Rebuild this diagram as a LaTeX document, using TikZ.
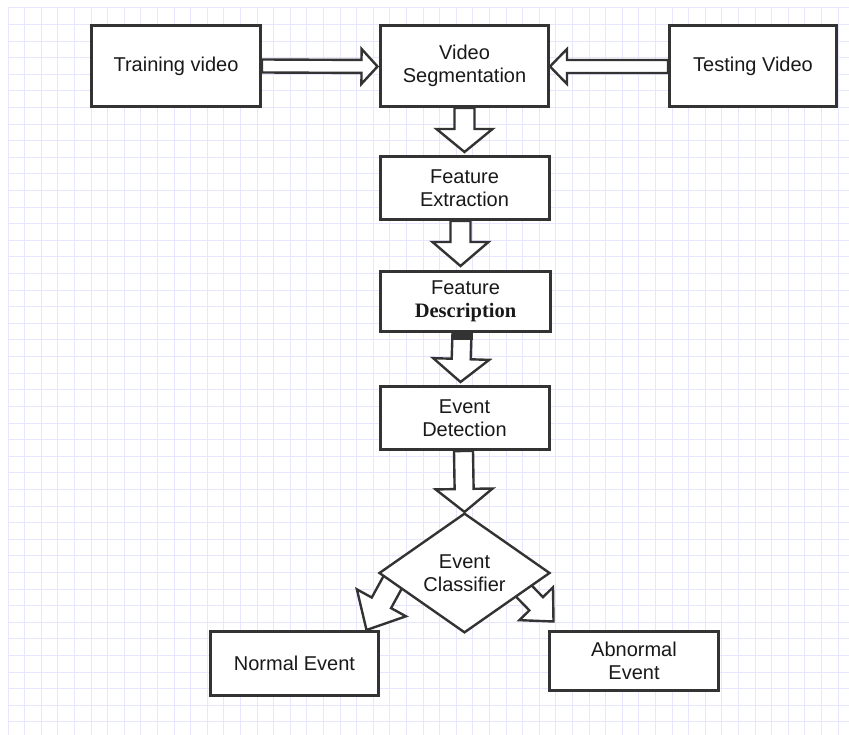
\documentclass[tikz,border=0pt]{standalone}
\usepackage{fontspec}
\setmainfont{Liberation Sans}
\newfontfamily\serifbold{Liberation Serif}
\usetikzlibrary{shapes.geometric,calc}
\pgfdeclarelayer{gridl}
\pgfdeclarelayer{arrl}
\pgfsetlayers{gridl,arrl,main}
\definecolor{gridc}{RGB}{230,230,254}
\definecolor{edgec}{RGB}{51,51,51}
\definecolor{txtc}{RGB}{25,25,25}
% block arrow: #1 start, #2 tip, #3 shaft half width, #4 head half width, #5 head length
\newcommand\blockarrow[5]{%
  \coordinate (ba-b) at ($(#2)!#5!(#1)$);
  \draw[barrow] (#2) -- ($(ba-b)!#4!90:(#2)$) -- ($(ba-b)!#3!90:(#2)$)
    -- ($(#1)!#3!90:(#2)$) -- ($(#1)!#3!-90:(#2)$) -- ($(ba-b)!#3!-90:(#2)$)
    -- ($(ba-b)!#4!-90:(#2)$) -- cycle;
}
\begin{document}
\begin{tikzpicture}[x=1pt,y=-1pt,
  box/.style={draw=edgec, line width=3pt, fill=white, minimum width=169pt,
    inner sep=0pt, align=center, text=txtc, font=\fontsize{20}{23.5}\selectfont},
  decision/.style={diamond, draw=edgec, line width=2.4pt, fill=white,
    minimum width=171pt, minimum height=116pt, inner sep=0pt, align=center,
    text=txtc, font=\fontsize{20}{23.5}\selectfont},
  barrow/.style={draw=edgec, line width=2.4pt, fill=white, line join=miter},
  gridline/.style={draw=gridc, line width=1pt}]
\useasboundingbox (0,0) rectangle (849,735);
\begin{pgfonlayer}{gridl}
  \fill[white] (0,0) rectangle (849,735);
  \foreach \i in {0,...,50} \draw[gridline] ({8+16.6*\i},8) -- ({8+16.6*\i},735);
  \foreach \j in {0,...,43} \draw[gridline] (8,{8+16.6*\j}) -- (849,{8+16.6*\j});
\end{pgfonlayer}

% nodes
\node[box, minimum height=81pt] (tv) at (176,66) {Training video};
\node[box, minimum height=81pt, minimum width=168pt] (vs) at (464.5,66) {Video\\Segmentation};
\node[box, minimum height=81pt, minimum width=167pt] (tst) at (753,66) {Testing Video};
\node[box, minimum height=63pt] (fe) at (464.5,188) {Feature\\Extraction};
\node[box, minimum height=60pt, minimum width=170pt] (fd) at (465.5,301.5)
  {Feature\\{\serifbold\bfseries\fontsize{20.5}{23.5}\selectfont Description}};
\node[box, minimum height=63pt] (ed) at (464.5,418) {Event\\Detection};
\node[decision] (dia) at (464.5,573) {Event\\Classifier};
\node[box, minimum height=64pt, minimum width=168pt] (ne) at (294.5,663.5) {Normal Event};
\node[box, minimum height=59pt] (ab) at (634,661) {Abnormal\\Event};

% connectors (block arrows)
\begin{pgfonlayer}{arrl}
  \coordinate (a1s) at (tv.east);
  \coordinate (a1e) at ($(vs.west)+(-1.5,0.5)$);
  \blockarrow{a1s}{a1e}{6.5pt}{17.5pt}{16pt}
  \coordinate (a2s) at ($(tst.west)+(0,0.5)$);
  \coordinate (a2e) at ($(vs.east)+(0,0.5)$);
  \blockarrow{a2s}{a2e}{6.5pt}{17.5pt}{17pt}
  \coordinate (a3s) at (vs.south);
  \coordinate (a3e) at ($(fe.north)+(0,-3)$);
  \blockarrow{a3s}{a3e}{10pt}{28pt}{23pt}
  \coordinate (a4s) at ($(fe.south)+(-4,0)$);
  \coordinate (a4e) at ($(fd.north)+(-5,-4)$);
  \blockarrow{a4s}{a4e}{10pt}{28pt}{24pt}
  \coordinate (a5s) at ($(fd.south)+(-3.5,0)$);
  \coordinate (a5e) at ($(ed.north)+(-4,-3)$);
  \blockarrow{a5s}{a5e}{9.5pt}{28pt}{23pt}
  \fill[edgec] ($(a5s)+(-10.5,0)$) rectangle ($(a5s)+(10.5,7)$);
  \coordinate (a6s) at ($(ed.south)+(-1,0)$);
  \coordinate (a6e) at (dia.north);
  \blockarrow{a6s}{a6e}{9.5pt}{28.5pt}{23pt}
  \coordinate (a7s) at ($(dia.center)+(-69.9,5.8)$);
  \coordinate (a7e) at ($(ne.north east)+(-13.5,0)$);
  \blockarrow{a7s}{a7e}{11pt}{28pt}{31pt}
  \coordinate (a8s) at ($(dia.center)+(48.8,7.3)$);
  \coordinate (a8e) at ($(ab.north west)+(5.5,-8.5)$);
  \blockarrow{a8s}{a8e}{9.5pt}{23.5pt}{24.8pt}
\end{pgfonlayer}
\end{tikzpicture}
\end{document}
